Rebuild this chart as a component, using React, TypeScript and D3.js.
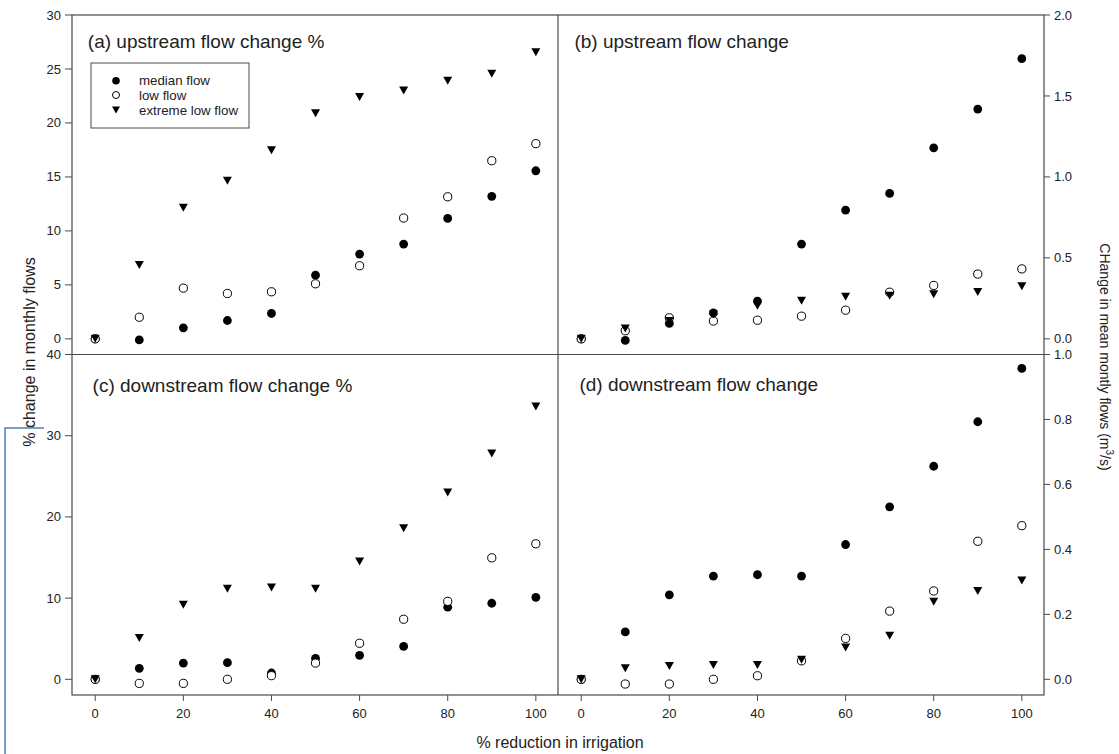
import React from "react";
import * as d3 from "d3";

const xValues = [0, 10, 20, 30, 40, 50, 60, 70, 80, 90, 100];
const xTicks = [0, 20, 40, 60, 80, 100];

const seriesNames = ["median flow", "low flow", "extreme low flow"];

// (a) upstream flow change %
const aMedian = [0, -0.1, 1.02, 1.7, 2.35, 5.9, 7.85, 8.78, 11.16, 13.2, 15.57];
const aLow = [0, 2.0, 4.7, 4.2, 4.36, 5.1, 6.77, 11.19, 13.16, 16.5, 18.08];
const aExtreme = [0, 6.83, 12.15, 14.65, 17.46, 20.9, 22.4, 23.0, 23.9, 24.55, 26.56];
const aTicks = [0, 5, 10, 15, 20, 25, 30];

// (b) upstream flow change
const bMedian = [0, -0.01, 0.095, 0.16, 0.233, 0.585, 0.795, 0.898, 1.18, 1.419, 1.73];
const bLow = [0, 0.05, 0.13, 0.11, 0.115, 0.14, 0.177, 0.288, 0.33, 0.4, 0.432];
const bExtreme = [0, 0.064, 0.11, 0.15, 0.204, 0.235, 0.26, 0.266, 0.276, 0.29, 0.325];
const bTicks = [0, 0.5, 1.0, 1.5, 2.0];

// (c) downstream flow change %
const cMedian = [0, 1.36, 2.0, 2.05, 0.78, 2.59, 2.96, 4.07, 8.88, 9.37, 10.1];
const cLow = [0, -0.5, -0.5, 0, 0.45, 2.0, 4.44, 7.4, 9.6, 14.96, 16.69];
const cExtreme = [0, 5.1, 9.17, 11.14, 11.3, 11.14, 14.5, 18.6, 23.0, 27.8, 33.6];
const cTicks = [0, 10, 20, 30, 40];

// (d) downstream flow change
const dMedian = [0, 0.146, 0.26, 0.318, 0.322, 0.318, 0.415, 0.531, 0.656, 0.793, 0.957];
const dLow = [0, -0.0145, -0.0145, 0, 0.011, 0.057, 0.126, 0.21, 0.272, 0.425, 0.473];
const dExtreme = [0, 0.034, 0.041, 0.044, 0.044, 0.06, 0.098, 0.134, 0.239, 0.272, 0.304];
const dTicks = [0, 0.2, 0.4, 0.6, 0.8, 1.0];

const FONT = "'Liberation Sans', Arial, Helvetica, sans-serif";
const LINE = "#4a4a4a";
const TEXT = "#222";

const L = 72, M = 558, R = 1044;
const T = 15, H = 354.5, B = 695;

const xDomain: [number, number] = [-5.27, 105.03];
const xLeft = d3.scaleLinear().domain(xDomain).range([L, M]);
const xRight = d3.scaleLinear().domain(xDomain).range([M, R]);
const yA = d3.scaleLinear().domain([-1.45, 30]).range([H, T]);
const yB = d3.scaleLinear().domain([-0.0967, 2.0]).range([H, T]);
const yC = d3.scaleLinear().domain([-1.93, 40]).range([B, H]);
const yD = d3.scaleLinear().domain([-0.04825, 1.0]).range([B, H]);

const tri = (cx: number, cy: number, w = 9, h = 8) =>
  `M${cx - w / 2},${cy - h / 2}L${cx + w / 2},${cy - h / 2}L${cx},${cy + h / 2}Z`;

type Scale = d3.ScaleLinear<number, number>;

function Markers({ x, y, med, low, ext }: { x: Scale; y: Scale; med: number[]; low: number[]; ext: number[] }) {
  return (
    <g>
      {med.map((v, i) => (
        <circle key={"m" + i} cx={x(xValues[i])} cy={y(v)} r={4.4} fill="#000" />
      ))}
      {low.map((v, i) => (
        <circle key={"l" + i} cx={x(xValues[i])} cy={y(v)} r={4.1} fill="#fff" stroke="#000" strokeWidth={1} />
      ))}
      {ext.map((v, i) => (
        <path key={"e" + i} d={tri(x(xValues[i]), y(v))} fill="#000" />
      ))}
    </g>
  );
}

function LeftAxis({ y, ticks, fmt }: { y: Scale; ticks: number[]; fmt: (n: number) => string }) {
  return (
    <g>
      {ticks.map((t) => (
        <g key={t}>
          <line x1={L - 7} x2={L} y1={y(t)} y2={y(t)} stroke={LINE} strokeWidth={1} />
          <text x={L - 11} y={y(t)} dy="0.35em" textAnchor="end" fontSize={13} fill={TEXT} fontFamily={FONT}>
            {fmt(t)}
          </text>
        </g>
      ))}
    </g>
  );
}

function RightAxis({ y, ticks, fmt }: { y: Scale; ticks: number[]; fmt: (n: number) => string }) {
  return (
    <g>
      {ticks.map((t) => (
        <g key={t}>
          <line x1={R} x2={R + 6} y1={y(t)} y2={y(t)} stroke={LINE} strokeWidth={1} />
          <text x={R + 10} y={y(t)} dy="0.35em" textAnchor="start" fontSize={13} fill={TEXT} fontFamily={FONT}>
            {fmt(t)}
          </text>
        </g>
      ))}
    </g>
  );
}

function BottomAxis({ x }: { x: Scale }) {
  return (
    <g>
      {xTicks.map((t) => (
        <g key={t}>
          <line x1={x(t)} x2={x(t)} y1={B} y2={B + 6} stroke={LINE} strokeWidth={1} />
          <text x={x(t)} y={B + 23} textAnchor="middle" fontSize={13} fill={TEXT} fontFamily={FONT}>
            {t}
          </text>
        </g>
      ))}
    </g>
  );
}

export default function App() {
  const f0 = d3.format("d");
  const f1 = d3.format(".1f");
  const legendY = [80.7, 95, 110];
  return (
    <svg width={1119} height={754} style={{ position: "absolute", left: 0, top: 0, background: "#fff" }}>
      <rect x={0} y={0} width={1119} height={754} fill="#fff" />
      {/* frame */}
      <rect x={L} y={T} width={R - L} height={B - T} fill="none" stroke={LINE} strokeWidth={1.2} />
      <line x1={L} x2={R} y1={H} y2={H} stroke={LINE} strokeWidth={1.2} />
      <line x1={M} x2={M} y1={T} y2={B} stroke={LINE} strokeWidth={1.2} />

      <LeftAxis y={yA} ticks={aTicks} fmt={f0} />
      <LeftAxis y={yC} ticks={cTicks} fmt={f0} />
      <RightAxis y={yB} ticks={bTicks} fmt={f1} />
      <RightAxis y={yD} ticks={dTicks} fmt={f1} />
      <BottomAxis x={xLeft} />
      <BottomAxis x={xRight} />

      <Markers x={xLeft} y={yA} med={aMedian} low={aLow} ext={aExtreme} />
      <Markers x={xRight} y={yB} med={bMedian} low={bLow} ext={bExtreme} />
      <Markers x={xLeft} y={yC} med={cMedian} low={cLow} ext={cExtreme} />
      <Markers x={xRight} y={yD} med={dMedian} low={dLow} ext={dExtreme} />

      <g fontFamily={FONT} fontSize={19} fill={TEXT}>
        <text x={xLeft(-1.67)} y={47.5}>(a) upstream flow change %</text>
        <text x={xRight(-1.53)} y={48}>(b) upstream flow change</text>
        <text x={xLeft(-0.6)} y={392}>(c) downstream flow change %</text>
        <text x={xRight(-0.4)} y={391}>(d) downstream flow change</text>
      </g>

      {/* legend */}
      <rect x={91} y={63} width={158} height={65} fill="#fff" stroke={LINE} strokeWidth={1} />
      <circle cx={116} cy={legendY[0]} r={3.8} fill="#000" />
      <circle cx={116} cy={legendY[1]} r={3.5} fill="#fff" stroke="#000" strokeWidth={1} />
      <path d={tri(116, legendY[2], 8, 7)} fill="#000" />
      {seriesNames.map((s, i) => (
        <text key={s} x={139} y={legendY[i]} dy="0.35em" fontSize={13.3} fill={TEXT} fontFamily={FONT}>
          {s}
        </text>
      ))}

      {/* axis titles */}
      <text
        transform="translate(35,352) rotate(-90)"
        textAnchor="middle"
        fontSize={16}
        fill={TEXT}
        fontFamily={FONT}
      >
        % change in monthly flows
      </text>
      <text
        transform="translate(1100,357) rotate(90)"
        textAnchor="middle"
        fontSize={14}
        fill={TEXT}
        fontFamily={FONT}
      >
        CHange in mean montly flows (m<tspan dy="-6" fontSize={10}>3</tspan>
        <tspan dy="6">/s)</tspan>
      </text>
      <text x={560} y={748} textAnchor="middle" fontSize={16} fill={TEXT} fontFamily={FONT}>
        % reduction in irrigation
      </text>

      {/* blue annotation bracket */}
      <path d="M44,428H5V754" fill="none" stroke="#4a7ebb" strokeWidth={1.5} />
    </svg>
  );
}
